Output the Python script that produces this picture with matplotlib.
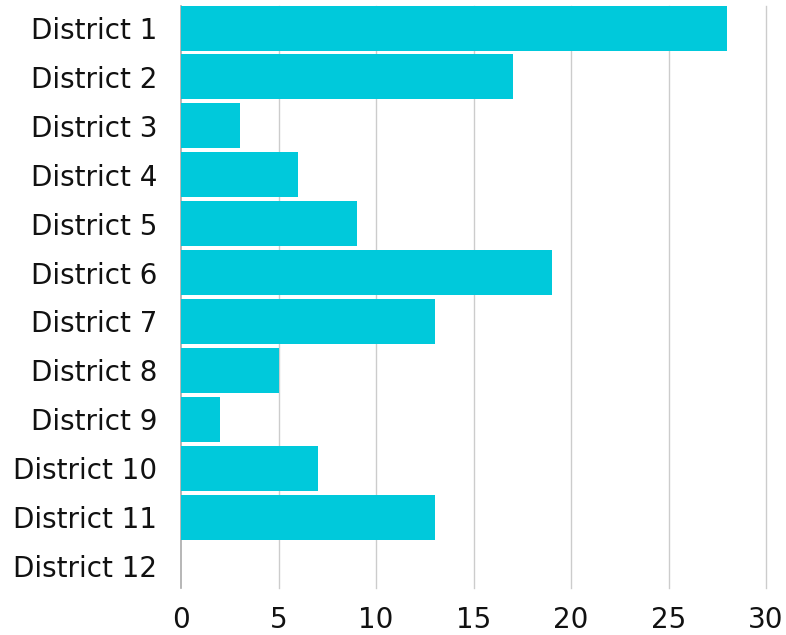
import matplotlib.pyplot as plt

districts = ['District 1', 'District 2', 'District 3', 'District 4', 'District 5', 'District 6',
             'District 7', 'District 8', 'District 9', 'District 10', 'District 11', 'District 12']
values = [28, 17, 3, 6, 9, 19, 13, 5, 2, 7, 13, 0]
x_ticks = [0, 5, 10, 15, 20, 25, 30]

plt.rcParams['font.family'] = ['DejaVu Sans']

fig = plt.figure(figsize=(7.86, 6.35), dpi=100)
ax = fig.add_axes([181 / 786, 47 / 635, 585 / 786, 582 / 635])

pos = list(range(len(districts)))
ax.barh(pos, values, height=0.92, color='#00C9DB', zorder=3)

ax.set_xlim(0, 30)
ax.set_ylim(len(districts) - 1 + 0.45, -0.45)
ax.set_xticks(x_ticks)
ax.set_yticks(pos)
ax.set_yticklabels(districts)

# vertical grid, drawn unclipped so the line at 30 shows
for t in x_ticks[1:]:
    ax.axvline(t, color='#cccccc', linewidth=1, zorder=0, clip_on=False)
ax.axvline(0, color='#aaaaaa', linewidth=1.2, zorder=1, clip_on=False)
for s in ax.spines.values():
    s.set_visible(False)

ax.tick_params(axis='y', length=0, pad=17, labelsize=20, labelcolor='#111111')
ax.tick_params(axis='x', length=0, pad=13, labelsize=20, labelcolor='#111111')

fig.savefig('out.png', dpi=100)
